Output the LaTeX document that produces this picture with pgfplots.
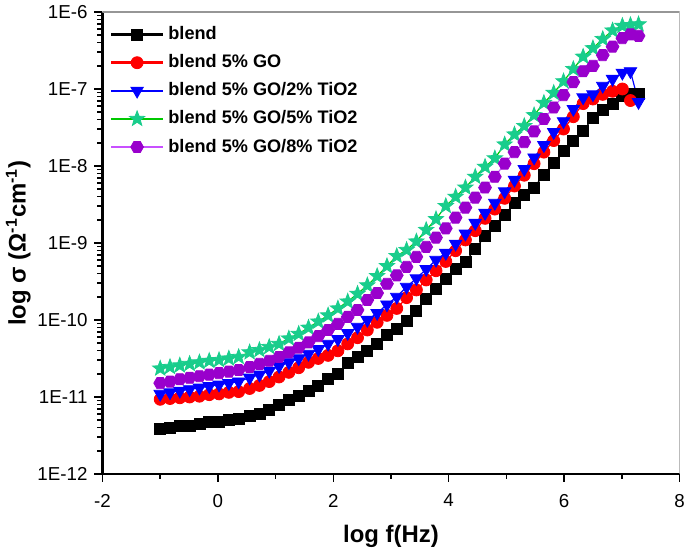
\documentclass[border=0pt]{standalone}
\usepackage{fontspec}
\setmainfont{Liberation Sans}
\usepackage{pgfplots}
\pgfplotsset{compat=1.18}
\usepackage{pgfplotstable}
\definecolor{myred}{RGB}{255,0,0}
\definecolor{myblue}{RGB}{0,0,255}
\definecolor{stargreen}{RGB}{25,205,140}
\definecolor{linegreen}{RGB}{0,200,0}
\definecolor{mypurple}{RGB}{153,0,204}
\definecolor{linepurple}{RGB}{200,80,255}
\definecolor{framegray}{RGB}{150,150,150}

\pgfdeclareplotmark{hexagon*}{%
  \pgfpathmoveto{\pgfpointpolar{0}{\pgfplotmarksize}}%
  \pgfpathlineto{\pgfpointpolar{60}{\pgfplotmarksize}}%
  \pgfpathlineto{\pgfpointpolar{120}{\pgfplotmarksize}}%
  \pgfpathlineto{\pgfpointpolar{180}{\pgfplotmarksize}}%
  \pgfpathlineto{\pgfpointpolar{240}{\pgfplotmarksize}}%
  \pgfpathlineto{\pgfpointpolar{300}{\pgfplotmarksize}}%
  \pgfpathclose
  \pgfusepathqfillstroke}
\pgfdeclareplotmark{fstar}{%
  \pgfpathmoveto{\pgfpointpolar{90}{\pgfplotmarksize}}%
  \pgfpathlineto{\pgfpointpolar{126}{0.42\pgfplotmarksize}}%
  \pgfpathlineto{\pgfpointpolar{162}{\pgfplotmarksize}}%
  \pgfpathlineto{\pgfpointpolar{198}{0.42\pgfplotmarksize}}%
  \pgfpathlineto{\pgfpointpolar{234}{\pgfplotmarksize}}%
  \pgfpathlineto{\pgfpointpolar{270}{0.42\pgfplotmarksize}}%
  \pgfpathlineto{\pgfpointpolar{306}{\pgfplotmarksize}}%
  \pgfpathlineto{\pgfpointpolar{342}{0.42\pgfplotmarksize}}%
  \pgfpathlineto{\pgfpointpolar{18}{\pgfplotmarksize}}%
  \pgfpathlineto{\pgfpointpolar{54}{0.42\pgfplotmarksize}}%
  \pgfpathclose
  \pgfusepathqfillstroke}

% x = log f(Hz); columns = log10 sigma
\pgfplotstableread{
x     k      r      b      g      p
-1.00 -11.42 -11.03 -10.96 -10.63 -10.82
-0.83 -11.40 -11.02 -10.94 -10.61 -10.80
-0.66 -11.38 -11.01 -10.92 -10.59 -10.77
-0.49 -11.37 -11.00 -10.90 -10.57 -10.75
-0.32 -11.35 -10.99 -10.88 -10.55 -10.73
-0.15 -11.33 -10.97 -10.86 -10.53 -10.71
0.02  -11.32 -10.96 -10.84 -10.52 -10.69
0.19  -11.30 -10.94 -10.82 -10.50 -10.67
0.36  -11.28 -10.93 -10.80 -10.48 -10.65
0.55  -11.25 -10.89 -10.75 -10.42 -10.61
0.72  -11.22 -10.85 -10.71 -10.39 -10.57
0.89  -11.17 -10.80 -10.66 -10.35 -10.53
1.06  -11.10 -10.74 -10.60 -10.31 -10.48
1.23  -11.04 -10.68 -10.55 -10.24 -10.42
1.40  -10.98 -10.62 -10.50 -10.18 -10.36
1.57  -10.92 -10.55 -10.44 -10.10 -10.29
1.74  -10.86 -10.50 -10.38 -10.02 -10.21
1.91  -10.77 -10.46 -10.31 -9.94  -10.13
2.08  -10.70 -10.40 -10.25 -9.85  -10.05
2.25  -10.56 -10.31 -10.17 -9.76  -9.96
2.42  -10.48 -10.23 -10.09 -9.66  -9.87
2.59  -10.40 -10.13 -10.00 -9.55  -9.74
2.76  -10.31 -10.03 -9.91  -9.43  -9.65
2.93  -10.20 -9.94  -9.80  -9.30  -9.53
3.10  -10.12 -9.85  -9.70  -9.17  -9.42
3.27  -10.01 -9.71  -9.57  -9.09  -9.31
3.44  -9.88  -9.61  -9.46  -8.98  -9.18
3.61  -9.72  -9.48  -9.34  -8.83  -9.05
3.78  -9.59  -9.36  -9.22  -8.69  -8.93
3.95  -9.46  -9.24  -9.13  -8.52  -8.81
4.12  -9.34  -9.10  -9.01  -8.40  -8.67
4.29  -9.24  -8.96  -8.88  -8.28  -8.54
4.46  -9.08  -8.84  -8.74  -8.14  -8.41
4.63  -8.91  -8.68  -8.61  -8.01  -8.28
4.80  -8.78  -8.56  -8.48  -7.90  -8.14
4.97  -8.64  -8.42  -8.33  -7.72  -7.97
5.14  -8.48  -8.26  -8.18  -7.59  -7.82
5.31  -8.37  -8.12  -8.04  -7.48  -7.69
5.48  -8.28  -7.97  -7.89  -7.34  -7.55
5.65  -8.11  -7.82  -7.73  -7.18  -7.39
5.82  -7.96  -7.67  -7.56  -7.05  -7.24
5.99  -7.81  -7.52  -7.42  -6.90  -7.08
6.16  -7.67  -7.36  -7.26  -6.74  -6.91
6.33  -7.54  -7.19  -7.11  -6.58  -6.77
6.50  -7.38  -7.13  -7.07  -6.47  -6.70
6.67  -7.27  -7.07  -6.96  -6.35  -6.56
6.84  -7.20  -7.03  -6.87  -6.24  -6.45
7.01  -7.09  -7.00  -6.79  -6.18  -6.34
7.15  -7.07  -7.15  -6.77  -6.17  -6.29
7.29  -7.07  nan    -7.17  -6.16  -6.31
}\data

\begin{document}
\begin{tikzpicture}
\begin{axis}[
  name=ax,
  scale only axis,
  width=288.5bp, height=231bp,
  xmin=-2, xmax=8, ymin=-12, ymax=-6,
  xtick={-2,0,2,4,6,8},
  minor xtick={-1,1,3,5,7},
  ytick={-12,-11,-10,-9,-8,-7,-6},
  yticklabels={1E-12,1E-11,1E-10,1E-9,1E-8,1E-7,1E-6},
  minor ytick={-11.699,-11.523,-11.398,-11.301,-11.222,-11.155,-11.097,-11.046,
               -10.699,-10.523,-10.398,-10.301,-10.222,-10.155,-10.097,-10.046,
               -9.699,-9.523,-9.398,-9.301,-9.222,-9.155,-9.097,-9.046,
               -8.699,-8.523,-8.398,-8.301,-8.222,-8.155,-8.097,-8.046,
               -7.699,-7.523,-7.398,-7.301,-7.222,-7.155,-7.097,-7.046,
               -6.699,-6.523,-6.398,-6.301,-6.222,-6.155,-6.097,-6.046},
  axis x line*=bottom, axis y line*=left,
  axis line style={line width=1.1pt},
  tick align=outside,
  major tick length=4bp, minor tick length=2.5bp,
  every tick/.style={black, line width=0.8pt},
  /pgf/number format/assume math mode=true,
  ticklabel style={font=\fontsize{9.4}{10}\selectfont},
  xticklabel style={yshift=-2.5bp},
  xticklabels={-2,0,2,4,6,8},
  every axis x label/.style={at={(axis description cs:0.5,-0.135)}, anchor=center},
  every axis y label/.style={at={(axis description cs:-0.146,0.5)}, anchor=center, rotate=90},
  label style={font=\bfseries\fontsize{12}{14}\selectfont},
  xlabel={log f(Hz)},
  ylabel={log σ (Ω\textsuperscript{-1}cm\textsuperscript{-1})},
  legend style={at={(axis description cs:0.012,0.978)}, anchor=north west,
    draw=none, fill=none, font=\bfseries\fontsize{9.1}{11}\selectfont,
    row sep=2.0bp, inner sep=0pt},
  legend cell align=left,
  legend image code/.code={%
    \draw[mark repeat=2,mark phase=2,line width=1.3pt] plot coordinates {(0bp,0bp) (13bp,0bp) (26bp,0bp)};},
]
\addplot[black, line width=0.6pt, mark=square*, mark size=2.75bp, mark options={line width=0.4pt}] table[x=x,y=k]{\data};
\addlegendentry{blend}
\addplot[myred, line width=0.6pt, mark=*, mark size=3bp, mark options={line width=0.4pt}] table[x=x,y=r]{\data};
\addlegendentry{blend 5\% GO}
\addplot[myblue, line width=0.6pt, mark=triangle*, mark size=3.6bp, mark options={rotate=180, line width=0.4pt}] table[x=x,y=b]{\data};
\addlegendentry{blend 5\% GO/2\% TiO2}
\addplot[linegreen, line width=0.6pt, mark=fstar, mark size=4bp, mark options={fill=stargreen, draw=stargreen, line width=0.4pt}] table[x=x,y=g]{\data};
\addlegendentry{blend 5\% GO/5\% TiO2}
\addplot[linepurple, line width=0.6pt, mark=hexagon*, mark size=3.2bp, mark options={fill=mypurple, draw=mypurple, line width=0.4pt}] table[x=x,y=p]{\data};
\addlegendentry{blend 5\% GO/8\% TiO2}
\draw[framegray, line width=0.6pt] (rel axis cs:0,1) -- (rel axis cs:1,1) -- (rel axis cs:1,0);
\end{axis}
\pgfresetboundingbox
\path[use as bounding box] ([xshift=-51.25bp,yshift=-39bp]ax.south west) rectangle ([xshift=2.75bp,yshift=6bp]ax.north east);
\end{tikzpicture}
\end{document}
